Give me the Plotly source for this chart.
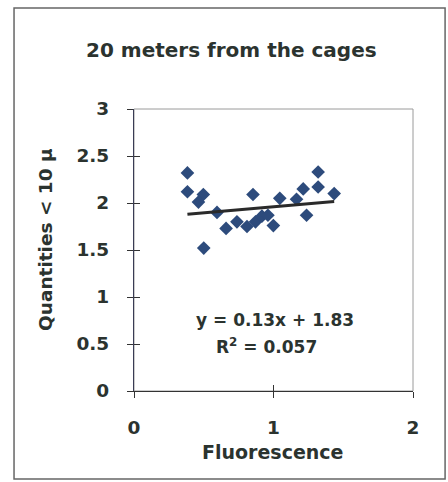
import plotly.graph_objects as go

# Samples taken 20 m from the cages
fluorescence = [0.383, 0.383, 0.497, 0.462, 0.50, 0.595, 0.66, 0.738, 0.81, 0.853,
                0.871, 0.917, 0.96, 0.999, 1.045, 1.165, 1.213, 1.237, 1.32, 1.32, 1.435]
quantities = [2.32, 2.12, 2.09, 2.01, 1.52, 1.90, 1.73, 1.80, 1.75, 2.09,
              1.80, 1.86, 1.87, 1.76, 2.05, 2.04, 2.15, 1.87, 2.33, 2.17, 2.10]

# Linear trend as given by the equation label
slope = 0.13
intercept = 1.83
r_squared = 0.057

x_ticks = [0, 1, 2]
y_ticks = [0, 0.5, 1, 1.5, 2, 2.5, 3]
y_tick_text = ["0", "0.5", "1", "1.5", "2", "2.5", "3"]

TEXT = "#2b332f"
FONT = "DejaVu Sans"
MARKER = "#2d4b7c"

x_line = [min(fluorescence), max(fluorescence)]
y_line = [slope * v + intercept for v in x_line]

fig = go.Figure()
fig.add_trace(go.Scatter(
    x=fluorescence, y=quantities, mode="markers",
    marker=dict(symbol="diamond", size=10.5, color=MARKER, line=dict(width=0)),
    showlegend=False, hoverinfo="skip",
))
fig.add_trace(go.Scatter(
    x=x_line, y=y_line, mode="lines",
    line=dict(color="#2a2a2a", width=3),
    showlegend=False, hoverinfo="skip",
))
# empty trace so the inner-tick overlay axes are drawn
fig.add_trace(go.Scatter(x=[], y=[], xaxis="x2", yaxis="y2", showlegend=False))

tick_font = dict(family=FONT, size=18.5, color=TEXT, weight="bold")

fig.update_layout(
    width=448, height=482,
    margin=dict(l=134, r=35, t=109, b=91),
    paper_bgcolor="white", plot_bgcolor="white",
    xaxis=dict(
        range=[0, 2], tickvals=x_ticks, ticktext=[str(v) for v in x_ticks],
        ticks="outside", ticklen=6, tickwidth=1.2, tickcolor="#333333",
        showline=True, linecolor="#333333", linewidth=1.2,
        showgrid=False, zeroline=False, tickfont=tick_font,
        ticklabelstandoff=14,
    ),
    yaxis=dict(
        range=[0, 3], tickvals=y_ticks, ticktext=y_tick_text,
        ticks="outside", ticklen=6, tickwidth=1.2, tickcolor="#333333",
        showline=True, linecolor="#3a3c55", linewidth=1.2,
        showgrid=False, zeroline=False, tickfont=tick_font,
        ticklabelstandoff=14,
    ),
    xaxis2=dict(
        overlaying="x", anchor="y2", range=[0, 2], tickvals=x_ticks,
        ticks="inside", ticklen=6, tickwidth=1.2, tickcolor="#333333",
        showticklabels=False, showline=False, showgrid=False, zeroline=False,
    ),
    yaxis2=dict(
        overlaying="y", anchor="x2", range=[0, 3], tickvals=y_ticks,
        ticks="inside", ticklen=6, tickwidth=1.2, tickcolor="#333333",
        showticklabels=False, showline=False, showgrid=False, zeroline=False,
    ),
    shapes=[
        # light frame on top/right of the plot area
        dict(type="rect", xref="paper", yref="paper", x0=0, y0=0, x1=1, y1=1,
             line=dict(color="#9a9a9a", width=1), layer="below"),
        # outer chart border
        dict(type="rect", xref="paper", yref="paper",
             x0=-0.430, y0=-0.312, x1=1.115, y1=1.358,
             line=dict(color="#666666", width=1.5), layer="below"),
    ],
    annotations=[
        dict(text="20 meters from the cages", xref="paper", yref="paper",
             x=0.348, y=1.209, showarrow=False, xanchor="center", yanchor="middle",
             font=dict(family=FONT, size=20, color=TEXT, weight="bold")),
        dict(text="Fluorescence", xref="paper", yref="paper",
             x=0.495, y=-0.216, showarrow=False, xanchor="center", yanchor="middle",
             font=dict(family=FONT, size=19, color=TEXT, weight="bold")),
        dict(text="Quantities < 10 µ", xref="paper", yref="paper",
             x=-0.319, y=0.539, showarrow=False, textangle=-90,
             xanchor="center", yanchor="middle",
             font=dict(family=FONT, size=18.5, color=TEXT, weight="bold")),
        dict(text=f"y = {slope}x + {intercept}", xref="paper", yref="paper",
             x=(275 - 134) / 279, y=(391 - 320) / 282, showarrow=False,
             xanchor="center", yanchor="middle",
             font=dict(family=FONT, size=17, color=TEXT, weight="bold")),
        dict(text=f"R<sup>2</sup> = {r_squared}", xref="paper", yref="paper",
             x=(266 - 134) / 279, y=(391 - 346) / 282, showarrow=False,
             xanchor="center", yanchor="middle",
             font=dict(family=FONT, size=17, color=TEXT, weight="bold")),
    ],
)

fig.write_html("out.html")
